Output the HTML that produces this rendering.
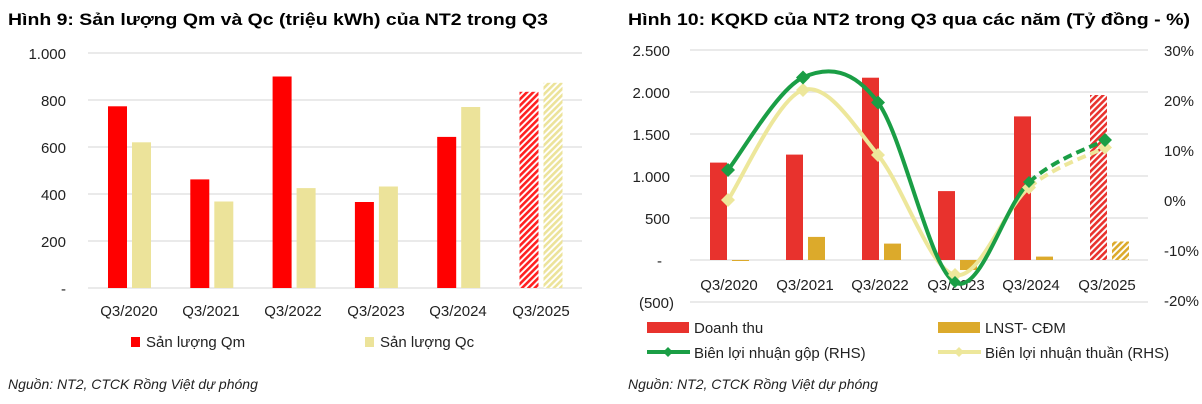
<!DOCTYPE html>
<html><head><meta charset="utf-8"><style>
html,body{margin:0;padding:0;background:#fff;}
svg{display:block;font-family:"Liberation Sans",sans-serif;}
</style></head><body>
<svg width="1202" height="404" viewBox="0 0 1202 404" xmlns="http://www.w3.org/2000/svg">
<defs>
<pattern id="hr" width="4.5" height="4.5" patternUnits="userSpaceOnUse" patternTransform="rotate(45)">
<rect width="4.5" height="4.5" fill="#fff"/><rect width="2.6" height="4.5" fill="#ff2020"/></pattern>
<pattern id="hb" width="4.5" height="4.5" patternUnits="userSpaceOnUse" patternTransform="rotate(45)">
<rect width="4.5" height="4.5" fill="#fff"/><rect width="2.6" height="4.5" fill="#ece39a"/></pattern>
<pattern id="hr2" width="4.5" height="4.5" patternUnits="userSpaceOnUse" patternTransform="rotate(45)">
<rect width="4.5" height="4.5" fill="#fff"/><rect width="2.6" height="4.5" fill="#e8322d"/></pattern>
<pattern id="hg" width="4.5" height="4.5" patternUnits="userSpaceOnUse" patternTransform="rotate(45)">
<rect width="4.5" height="4.5" fill="#fff"/><rect width="2.6" height="4.5" fill="#dcaa2b"/></pattern>
</defs>
<!-- LEFT -->
<text x="8" y="25" font-size="17" font-weight="bold" textLength="540" lengthAdjust="spacingAndGlyphs">Hình 9: Sản lượng Qm và Qc (triệu kWh) của NT2 trong Q3</text>
<g stroke="#e3e3e3" stroke-width="1.5">
<line x1="88" x2="582" y1="53" y2="53"/><line x1="88" x2="582" y1="100" y2="100"/><line x1="88" x2="582" y1="147" y2="147"/><line x1="88" x2="582" y1="194" y2="194"/><line x1="88" x2="582" y1="241" y2="241"/><line x1="88" x2="582" y1="288" y2="288"/>
</g>
<g font-size="15" fill="#222" text-anchor="end">
<text x="66" y="59">1.000</text><text x="66" y="106">800</text><text x="66" y="153">600</text><text x="66" y="200">400</text><text x="66" y="247">200</text><text x="66" y="294">-</text>
</g>
<g fill="#ff0000">
<rect x="108" y="106.3" width="19" height="181.7"/><rect x="190.3" y="179.4" width="19" height="108.6"/><rect x="272.6" y="76.5" width="19" height="211.5"/><rect x="354.9" y="202" width="19" height="86"/><rect x="437.2" y="136.9" width="19" height="151.1"/>
</g>
<rect x="519.5" y="91.8" width="19" height="196.2" fill="url(#hr)"/>
<g fill="#ece39a">
<rect x="132" y="142.3" width="19" height="145.7"/><rect x="214.3" y="201.5" width="19" height="86.5"/><rect x="296.6" y="188.1" width="19" height="99.9"/><rect x="378.9" y="186.5" width="19" height="101.5"/><rect x="461.2" y="107" width="19" height="181"/>
</g>
<rect x="543.5" y="82.8" width="19" height="205.2" fill="url(#hb)"/>
<g font-size="15" fill="#222" text-anchor="middle">
<text x="129" y="316">Q3/2020</text><text x="211" y="316">Q3/2021</text><text x="293" y="316">Q3/2022</text><text x="376" y="316">Q3/2023</text><text x="458" y="316">Q3/2024</text><text x="541" y="316">Q3/2025</text>
</g>
<rect x="131" y="337" width="9" height="10" fill="#ff0000"/><text x="146" y="347" font-size="15" fill="#222">Sản lượng Qm</text>
<rect x="365" y="337" width="9" height="10" fill="#ece39a"/><text x="380" y="347" font-size="15" fill="#222">Sản lượng Qc</text>
<text x="8" y="389" font-size="14" font-style="italic" fill="#222">Nguồn: NT2, CTCK Rồng Việt dự phóng</text>

<!-- RIGHT -->
<text x="628" y="25" font-size="17" font-weight="bold" textLength="562" lengthAdjust="spacingAndGlyphs">Hình 10: KQKD của NT2 trong Q3 qua các năm (Tỷ đồng - %)</text>
<g stroke="#e3e3e3" stroke-width="1.5">
<line x1="690" x2="1148" y1="50" y2="50"/><line x1="690" x2="1148" y1="92" y2="92"/><line x1="690" x2="1148" y1="134" y2="134"/><line x1="690" x2="1148" y1="176" y2="176"/><line x1="690" x2="1148" y1="218" y2="218"/><line x1="690" x2="1148" y1="260" y2="260"/><line x1="690" x2="1148" y1="302" y2="302"/>
</g>
<g font-size="15" fill="#222" text-anchor="end">
<text x="670" y="56">2.500</text><text x="670" y="98">2.000</text><text x="670" y="140">1.500</text><text x="670" y="182">1.000</text><text x="670" y="224">500</text><text x="662" y="266">-</text><text x="674" y="308">(500)</text>
</g>
<g font-size="15" fill="#222">
<text x="1164" y="56">30%</text><text x="1164" y="106">20%</text><text x="1164" y="156">10%</text><text x="1164" y="206">0%</text><text x="1164" y="256">-10%</text><text x="1164" y="306">-20%</text>
</g>
<g fill="#e8322d">
<rect x="710" y="162.6" width="17" height="97.4"/><rect x="786" y="154.6" width="17" height="105.4"/><rect x="862" y="77.7" width="17" height="182.3"/><rect x="938" y="191.1" width="17" height="68.9"/><rect x="1014" y="116.4" width="17" height="143.6"/>
</g>
<rect x="1090" y="95" width="17" height="165" fill="url(#hr2)"/>
<g fill="#dcaa2b">
<rect x="732" y="260" width="17" height="1"/><rect x="808" y="236.9" width="17" height="23.1"/><rect x="884" y="243.6" width="17" height="16.4"/><rect x="960" y="260" width="17" height="10"/><rect x="1036" y="256.6" width="17" height="3.4"/>
</g>
<rect x="1112" y="241.5" width="17" height="18.5" fill="url(#hg)"/>
<g font-size="15" fill="#222" text-anchor="middle">
<text x="729" y="290">Q3/2020</text><text x="805" y="290">Q3/2021</text><text x="880" y="290">Q3/2022</text><text x="956" y="290">Q3/2023</text><text x="1031" y="290">Q3/2024</text><text x="1107" y="290">Q3/2025</text>
</g>
<path d="M728,200 C740.5,181.7 778,97.5 803,90 C828,82.5 852.7,124.2 878,155 C903.3,185.8 929.8,269.6 955,275 C980.2,280.4 1004,208.75 1029,187.5" fill="none" stroke="#ede79b" stroke-width="4"/>
<path d="M1029,187.5 C1054,166.25 1092.3,154.2 1105,147.5" fill="none" stroke="#ede79b" stroke-width="4" stroke-dasharray="9,5"/>
<path d="M728,170 C740.5,154.6 778,88.75 803,77.5 C828,66.25 852.7,68.3 878,102.5 C903.3,136.7 929.8,269.2 955,282.5 C980.2,295.8 1004,206.25 1029,182.5" fill="none" stroke="#1a9e45" stroke-width="4"/>
<path d="M1029,182.5 C1054,158.75 1092.3,147.1 1105,140" fill="none" stroke="#1a9e45" stroke-width="4" stroke-dasharray="9,5"/>
<g fill="#ede79b">
<path d="M728,193 l7,7 l-7,7 l-7,-7z"/><path d="M803,83 l7,7 l-7,7 l-7,-7z"/><path d="M878,148 l7,7 l-7,7 l-7,-7z"/><path d="M955,268 l7,7 l-7,7 l-7,-7z"/><path d="M1029,180.5 l7,7 l-7,7 l-7,-7z"/><path d="M1105,140.5 l7,7 l-7,7 l-7,-7z"/>
</g>
<g fill="#1a9e45">
<path d="M728,163 l7,7 l-7,7 l-7,-7z"/><path d="M803,70.5 l7,7 l-7,7 l-7,-7z"/><path d="M878,95.5 l7,7 l-7,7 l-7,-7z"/><path d="M955,276 l6,6 l-6,6 l-6,-6z"/><path d="M1029,176 l6,6 l-6,6 l-6,-6z"/><path d="M1105,133 l7,7 l-7,7 l-7,-7z"/>
</g>
<rect x="647" y="322" width="42" height="11" fill="#e8322d"/><text x="694" y="333" font-size="15" fill="#222">Doanh thu</text>
<rect x="938" y="322" width="42" height="11" fill="#dcaa2b"/><text x="985" y="333" font-size="15" fill="#222">LNST- CĐM</text>
<line x1="647" x2="690" y1="352" y2="352" stroke="#1a9e45" stroke-width="4"/><path d="M668,347 l5,5 l-5,5 l-5,-5z" fill="#1a9e45"/>
<text x="694" y="358" font-size="15" fill="#222">Biên lợi nhuận gộp (RHS)</text>
<line x1="938" x2="981" y1="352" y2="352" stroke="#ede79b" stroke-width="4"/><path d="M959,347 l5,5 l-5,5 l-5,-5z" fill="#ede79b"/>
<text x="985" y="358" font-size="15" fill="#222">Biên lợi nhuận thuần (RHS)</text>
<text x="628" y="389" font-size="14" font-style="italic" fill="#222">Nguồn: NT2, CTCK Rồng Việt dự phóng</text>
</svg>
</body></html>
